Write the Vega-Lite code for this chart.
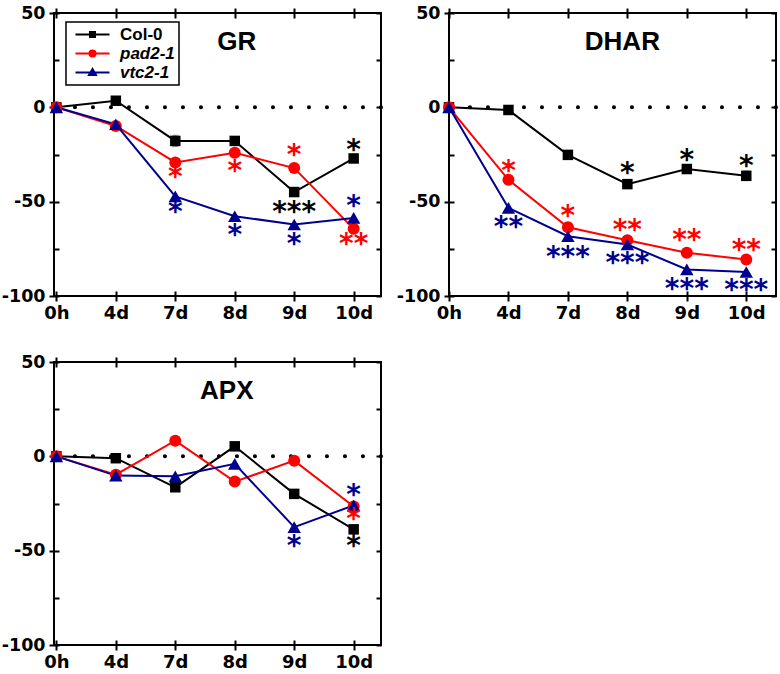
{
  "$schema": "https://vega.github.io/schema/vega-lite/v6.json",
  "background": "white",
  "padding": {"left": 0, "top": 3, "right": 0, "bottom": 0},
  "datasets": {
    "series": [
      {"panel": "GR", "genotype": "Col-0", "day": "0h", "value": 0},
      {"panel": "GR", "genotype": "Col-0", "day": "4d", "value": 3.5},
      {"panel": "GR", "genotype": "Col-0", "day": "7d", "value": -17.8, "err": 3},
      {"panel": "GR", "genotype": "Col-0", "day": "8d", "value": -17.8},
      {"panel": "GR", "genotype": "Col-0", "day": "9d", "value": -44.9},
      {"panel": "GR", "genotype": "Col-0", "day": "10d", "value": -27.1, "err": 1.5},
      {"panel": "GR", "genotype": "pad2-1", "day": "0h", "value": 0},
      {"panel": "GR", "genotype": "pad2-1", "day": "4d", "value": -9.9},
      {"panel": "GR", "genotype": "pad2-1", "day": "7d", "value": -29.2},
      {"panel": "GR", "genotype": "pad2-1", "day": "8d", "value": -24.1},
      {"panel": "GR", "genotype": "pad2-1", "day": "9d", "value": -32.2},
      {"panel": "GR", "genotype": "pad2-1", "day": "10d", "value": -64.4},
      {"panel": "GR", "genotype": "vtc2-1", "day": "0h", "value": 0},
      {"panel": "GR", "genotype": "vtc2-1", "day": "4d", "value": -9.0},
      {"panel": "GR", "genotype": "vtc2-1", "day": "7d", "value": -47.2},
      {"panel": "GR", "genotype": "vtc2-1", "day": "8d", "value": -57.7},
      {"panel": "GR", "genotype": "vtc2-1", "day": "9d", "value": -62.1},
      {"panel": "GR", "genotype": "vtc2-1", "day": "10d", "value": -58.6},
      {"panel": "DHAR", "genotype": "Col-0", "day": "0h", "value": 0},
      {"panel": "DHAR", "genotype": "Col-0", "day": "4d", "value": -1.4},
      {"panel": "DHAR", "genotype": "Col-0", "day": "7d", "value": -25.2, "err": 1.2},
      {"panel": "DHAR", "genotype": "Col-0", "day": "8d", "value": -40.7},
      {"panel": "DHAR", "genotype": "Col-0", "day": "9d", "value": -32.7},
      {"panel": "DHAR", "genotype": "Col-0", "day": "10d", "value": -36.3, "err": 2.5},
      {"panel": "DHAR", "genotype": "pad2-1", "day": "0h", "value": 0},
      {"panel": "DHAR", "genotype": "pad2-1", "day": "4d", "value": -38.4},
      {"panel": "DHAR", "genotype": "pad2-1", "day": "7d", "value": -63.6},
      {"panel": "DHAR", "genotype": "pad2-1", "day": "8d", "value": -70.4},
      {"panel": "DHAR", "genotype": "pad2-1", "day": "9d", "value": -77.1},
      {"panel": "DHAR", "genotype": "pad2-1", "day": "10d", "value": -80.6},
      {"panel": "DHAR", "genotype": "vtc2-1", "day": "0h", "value": 0},
      {"panel": "DHAR", "genotype": "vtc2-1", "day": "4d", "value": -53.3},
      {"panel": "DHAR", "genotype": "vtc2-1", "day": "7d", "value": -68.3},
      {"panel": "DHAR", "genotype": "vtc2-1", "day": "8d", "value": -72.7},
      {"panel": "DHAR", "genotype": "vtc2-1", "day": "9d", "value": -85.9},
      {"panel": "DHAR", "genotype": "vtc2-1", "day": "10d", "value": -87.3},
      {"panel": "APX", "genotype": "Col-0", "day": "0h", "value": 0},
      {"panel": "APX", "genotype": "Col-0", "day": "4d", "value": -1.0},
      {"panel": "APX", "genotype": "Col-0", "day": "7d", "value": -16.4, "err": 1.5},
      {"panel": "APX", "genotype": "Col-0", "day": "8d", "value": 5.3},
      {"panel": "APX", "genotype": "Col-0", "day": "9d", "value": -19.9},
      {"panel": "APX", "genotype": "Col-0", "day": "10d", "value": -38.7},
      {"panel": "APX", "genotype": "pad2-1", "day": "0h", "value": 0},
      {"panel": "APX", "genotype": "pad2-1", "day": "4d", "value": -9.7},
      {"panel": "APX", "genotype": "pad2-1", "day": "7d", "value": 8.3},
      {"panel": "APX", "genotype": "pad2-1", "day": "8d", "value": -13.4},
      {"panel": "APX", "genotype": "pad2-1", "day": "9d", "value": -2.3},
      {"panel": "APX", "genotype": "pad2-1", "day": "10d", "value": -26.6},
      {"panel": "APX", "genotype": "vtc2-1", "day": "0h", "value": 0},
      {"panel": "APX", "genotype": "vtc2-1", "day": "4d", "value": -10.2},
      {"panel": "APX", "genotype": "vtc2-1", "day": "7d", "value": -10.6},
      {"panel": "APX", "genotype": "vtc2-1", "day": "8d", "value": -4.0},
      {"panel": "APX", "genotype": "vtc2-1", "day": "9d", "value": -37.5},
      {"panel": "APX", "genotype": "vtc2-1", "day": "10d", "value": -26.0}
    ],
    "stars": [
      {"panel": "GR", "genotype": "Col-0", "day": "10d", "label": "*", "y": -20.8},
      {"panel": "GR", "genotype": "Col-0", "day": "9d", "label": "***", "y": -53.7},
      {"panel": "GR", "genotype": "pad2-1", "day": "7d", "label": "*", "y": -35.2},
      {"panel": "GR", "genotype": "pad2-1", "day": "8d", "label": "*", "y": -31.7},
      {"panel": "GR", "genotype": "pad2-1", "day": "9d", "label": "*", "y": -23.4},
      {"panel": "GR", "genotype": "pad2-1", "day": "10d", "label": "**", "y": -70.4},
      {"panel": "GR", "genotype": "vtc2-1", "day": "7d", "label": "*", "y": -53.7},
      {"panel": "GR", "genotype": "vtc2-1", "day": "8d", "label": "*", "y": -66.0},
      {"panel": "GR", "genotype": "vtc2-1", "day": "9d", "label": "*", "y": -70.4},
      {"panel": "GR", "genotype": "vtc2-1", "day": "10d", "label": "*", "y": -50.2},
      {"panel": "DHAR", "genotype": "Col-0", "day": "8d", "label": "*", "y": -32.7},
      {"panel": "DHAR", "genotype": "Col-0", "day": "9d", "label": "*", "y": -26.1},
      {"panel": "DHAR", "genotype": "Col-0", "day": "10d", "label": "*", "y": -29.2},
      {"panel": "DHAR", "genotype": "pad2-1", "day": "4d", "label": "*", "y": -31.7},
      {"panel": "DHAR", "genotype": "pad2-1", "day": "7d", "label": "*", "y": -55.5},
      {"panel": "DHAR", "genotype": "pad2-1", "day": "8d", "label": "**", "y": -63.4},
      {"panel": "DHAR", "genotype": "pad2-1", "day": "9d", "label": "**", "y": -68.7},
      {"panel": "DHAR", "genotype": "pad2-1", "day": "10d", "label": "**", "y": -73.9},
      {"panel": "DHAR", "genotype": "vtc2-1", "day": "4d", "label": "**", "y": -61.6},
      {"panel": "DHAR", "genotype": "vtc2-1", "day": "7d", "label": "***", "y": -77.5},
      {"panel": "DHAR", "genotype": "vtc2-1", "day": "8d", "label": "***", "y": -80.6},
      {"panel": "DHAR", "genotype": "vtc2-1", "day": "9d", "label": "***", "y": -94.2},
      {"panel": "DHAR", "genotype": "vtc2-1", "day": "10d", "label": "***", "y": -95.1},
      {"panel": "APX", "genotype": "vtc2-1", "day": "9d", "label": "*", "y": -45.6},
      {"panel": "APX", "genotype": "vtc2-1", "day": "10d", "label": "*", "y": -18.4},
      {"panel": "APX", "genotype": "pad2-1", "day": "10d", "label": "*", "y": -31.6},
      {"panel": "APX", "genotype": "Col-0", "day": "10d", "label": "*", "y": -45.6}
    ],
    "titles": [
      {"panel": "GR", "name": "GR", "day": "8d", "y": 30.4},
      {"panel": "DHAR", "name": "DHAR", "day": "8d", "y": 30.4},
      {"panel": "APX", "name": "APX", "day": "8d", "y": 30.4}
    ]
  },
  "concat": [
    {
      "width": 327, "height": 283,
      "data": {"name": "series"},
      "transform": [{"filter": "datum.panel === 'GR'"}],
      "resolve": {"axis": {"x": "independent", "y": "independent"}},
      "layer": [
        {
          "data": {"values": [{"baseline": 0}]},
          "transform": [],
          "mark": {"type": "rule", "strokeDash": [0.1, 17.9], "strokeWidth": 4, "strokeCap": "round", "color": "black"},
          "encoding": {
            "y": {"field": "baseline", "type": "quantitative", "scale": {"domain": [-100, 50], "nice": false, "zero": false},
              "axis": {"orient": "left", "values": [-100, -75, -50, -25, 0, 25, 50], "offset": -5, "tickSize": {"condition": {"test": "datum.value % 50 === 0", "value": 10}, "value": 5}, "labelExpr": "datum.value % 50 === 0 ? '' + datum.value : ''", "labelPadding": 4, "domain": false, "grid": false, "title": null}}
          }
        },
        {
          "data": {"name": "titles"},
          "transform": [{"filter": "datum.panel === 'GR'"}],
          "mark": {"type": "text", "font": "Liberation Sans", "fontSize": 26, "fontWeight": "bold", "color": "black", "baseline": "alphabetic", "align": "center", "dx": 2},
          "encoding": {
            "x": {"field": "day", "type": "ordinal", "scale": {"type": "point", "domain": ["0h", "4d", "7d", "8d", "9d", "10d"], "padding": 0.25, "align": 0.08}, "axis": null},
            "y": {"field": "y", "type": "quantitative", "scale": {"domain": [-100, 50], "nice": false, "zero": false}, "axis": null},
            "text": {"field": "name"}
          }
        },
        {
          "mark": {"type": "errorbar", "ticks": {"size": 6}, "color": "#7f7f7f", "thickness": 1.2},
          "transform": [{"filter": "datum.err > 0"}],
          "encoding": {
            "x": {"field": "day", "type": "ordinal", "sort": ["0h", "4d", "7d", "8d", "9d", "10d"], "scale": {"type": "point", "domain": ["0h", "4d", "7d", "8d", "9d", "10d"], "padding": 0.25, "align": 0.08}, "axis": null},
            "y": {"field": "value", "type": "quantitative", "scale": {"domain": [-100, 50], "nice": false, "zero": false}, "axis": null},
            "yError": {"field": "err"}
          }
        },
        {
          "mark": {"type": "line", "strokeWidth": 2},
          "encoding": {
            "x": {"field": "day", "type": "ordinal", "sort": ["0h", "4d", "7d", "8d", "9d", "10d"], "scale": {"type": "point", "domain": ["0h", "4d", "7d", "8d", "9d", "10d"], "padding": 0.25, "align": 0.08},
              "axis": {"orient": "bottom", "offset": -5, "tickSize": 10, "labelPadding": 3, "labelAngle": 0, "domain": false, "grid": false, "title": null}},
            "y": {"field": "value", "type": "quantitative", "scale": {"domain": [-100, 50], "nice": false, "zero": false},
              "axis": {"orient": "right", "values": [-100, -75, -50, -25, 0, 25, 50], "tickSize": -5, "labels": false, "domain": false, "grid": false, "title": null}},
            "color": {"field": "genotype", "type": "nominal", "scale": {"domain": ["Col-0", "pad2-1", "vtc2-1"], "range": ["#000000", "#FF0000", "#000090"]},
              "legend": {
                "orient": "none", "legendX": 12, "legendY": 9, "title": null,
                "padding": 4, "strokeColor": "black", "fillColor": "white",
                "symbolSize": 196, "symbolStrokeWidth": 2, "symbolOffset": 14, "labelOffset": 19, "rowPadding": 1,
                "labelFont": "Liberation Sans", "labelFontSize": 17, "labelFontWeight": "bold", "labelColor": "black",
                "encode": {
                  "symbols": {"update": {
                    "shape": {"signal": "datum.value === 'Col-0' ? 'M-2.43,0H2.43M-0.36,-0.36H0.36V0.36H-0.36Z' : datum.value === 'pad2-1' ? 'M-2.43,0H2.43M-0.43,0A0.43 0.43 0 1 0 0.43,0A0.43 0.43 0 1 0 -0.43,0Z' : 'M-2.43,0H2.43M0,-0.5L0.5,0.36L-0.5,0.36Z'"},
                    "fill": {"signal": "datum.value === 'Col-0' ? '#000000' : datum.value === 'pad2-1' ? '#FF0000' : '#000090'"},
                    "stroke": {"signal": "datum.value === 'Col-0' ? '#000000' : datum.value === 'pad2-1' ? '#FF0000' : '#000090'"},
                    "strokeWidth": {"value": 2},
                    "opacity": {"value": 1}
                  }},
                  "labels": {"update": {"fontStyle": {"signal": "datum.label === 'Col-0' ? 'normal' : 'italic'"}}},
                  "legend": {"update": {"strokeWidth": {"value": 1.5}}}
                }
              }}
          }
        },
        {
          "transform": [{"filter": "datum.genotype === 'Col-0'"}],
          "mark": {"type": "point", "shape": "square", "size": 110, "filled": true, "opacity": 1},
          "encoding": {
            "x": {"field": "day", "type": "ordinal", "scale": {"type": "point", "domain": ["0h", "4d", "7d", "8d", "9d", "10d"], "padding": 0.25, "align": 0.08},
              "axis": {"orient": "top", "offset": -5, "tickSize": 10, "labels": false, "domain": false, "grid": false, "title": null}},
            "y": {"field": "value", "type": "quantitative", "scale": {"domain": [-100, 50], "nice": false, "zero": false}, "axis": null},
            "color": {"field": "genotype", "type": "nominal", "scale": {"domain": ["Col-0", "pad2-1", "vtc2-1"], "range": ["#000000", "#FF0000", "#000090"]}, "legend": null}
          }
        },
        {
          "transform": [{"filter": "datum.genotype === 'pad2-1'"}],
          "mark": {"type": "point", "shape": "circle", "size": 144, "filled": true, "opacity": 1},
          "encoding": {
            "x": {"field": "day", "type": "ordinal", "scale": {"type": "point", "domain": ["0h", "4d", "7d", "8d", "9d", "10d"], "padding": 0.25, "align": 0.08}, "axis": null},
            "y": {"field": "value", "type": "quantitative", "scale": {"domain": [-100, 50], "nice": false, "zero": false}, "axis": null},
            "color": {"field": "genotype", "type": "nominal", "scale": {"domain": ["Col-0", "pad2-1", "vtc2-1"], "range": ["#000000", "#FF0000", "#000090"]}, "legend": null}
          }
        },
        {
          "transform": [{"filter": "datum.genotype === 'vtc2-1'"}],
          "mark": {"type": "point", "shape": "triangle-up", "size": 180, "filled": true, "opacity": 1},
          "encoding": {
            "x": {"field": "day", "type": "ordinal", "scale": {"type": "point", "domain": ["0h", "4d", "7d", "8d", "9d", "10d"], "padding": 0.25, "align": 0.08}, "axis": null},
            "y": {"field": "value", "type": "quantitative", "scale": {"domain": [-100, 50], "nice": false, "zero": false}, "axis": null},
            "color": {"field": "genotype", "type": "nominal", "scale": {"domain": ["Col-0", "pad2-1", "vtc2-1"], "range": ["#000000", "#FF0000", "#000090"]}, "legend": null}
          }
        },
        {
          "data": {"name": "stars"},
          "transform": [{"filter": "datum.panel === 'GR'"}],
          "mark": {"type": "text", "font": "DejaVu Sans", "fontSize": 28, "fontWeight": "bold", "baseline": "alphabetic", "align": "center", "dy": 12.5},
          "encoding": {
            "x": {"field": "day", "type": "ordinal", "scale": {"type": "point", "domain": ["0h", "4d", "7d", "8d", "9d", "10d"], "padding": 0.25, "align": 0.08}, "axis": null},
            "y": {"field": "y", "type": "quantitative", "scale": {"domain": [-100, 50], "nice": false, "zero": false}, "axis": null},
            "text": {"field": "label"},
            "color": {"field": "genotype", "type": "nominal", "scale": {"domain": ["Col-0", "pad2-1", "vtc2-1"], "range": ["#000000", "#FF0000", "#000090"]}, "legend": null}
          }
        }
      ]
    },
    {
      "width": 327, "height": 283,
      "data": {"name": "series"},
      "transform": [{"filter": "datum.panel === 'DHAR'"}],
      "resolve": {"axis": {"x": "independent", "y": "independent"}},
      "layer": [
        {
          "data": {"values": [{"baseline": 0}]},
          "transform": [],
          "mark": {"type": "rule", "strokeDash": [0.1, 17.9], "strokeWidth": 4, "strokeCap": "round", "color": "black"},
          "encoding": {
            "y": {"field": "baseline", "type": "quantitative", "scale": {"domain": [-100, 50], "nice": false, "zero": false},
              "axis": {"orient": "left", "values": [-100, -75, -50, -25, 0, 25, 50], "offset": -5, "tickSize": {"condition": {"test": "datum.value % 50 === 0", "value": 10}, "value": 5}, "labelExpr": "datum.value % 50 === 0 ? '' + datum.value : ''", "labelPadding": 4, "domain": false, "grid": false, "title": null}}
          }
        },
        {
          "data": {"name": "titles"},
          "transform": [{"filter": "datum.panel === 'DHAR'"}],
          "mark": {"type": "text", "font": "Liberation Sans", "fontSize": 26, "fontWeight": "bold", "color": "black", "baseline": "alphabetic", "align": "center", "dx": -5},
          "encoding": {
            "x": {"field": "day", "type": "ordinal", "scale": {"type": "point", "domain": ["0h", "4d", "7d", "8d", "9d", "10d"], "padding": 0.25, "align": 0}, "axis": null},
            "y": {"field": "y", "type": "quantitative", "scale": {"domain": [-100, 50], "nice": false, "zero": false}, "axis": null},
            "text": {"field": "name"}
          }
        },
        {
          "mark": {"type": "errorbar", "ticks": {"size": 6}, "color": "#7f7f7f", "thickness": 1.2},
          "transform": [{"filter": "datum.err > 0"}],
          "encoding": {
            "x": {"field": "day", "type": "ordinal", "sort": ["0h", "4d", "7d", "8d", "9d", "10d"], "scale": {"type": "point", "domain": ["0h", "4d", "7d", "8d", "9d", "10d"], "padding": 0.25, "align": 0}, "axis": null},
            "y": {"field": "value", "type": "quantitative", "scale": {"domain": [-100, 50], "nice": false, "zero": false}, "axis": null},
            "yError": {"field": "err"}
          }
        },
        {
          "mark": {"type": "line", "strokeWidth": 2},
          "encoding": {
            "x": {"field": "day", "type": "ordinal", "sort": ["0h", "4d", "7d", "8d", "9d", "10d"], "scale": {"type": "point", "domain": ["0h", "4d", "7d", "8d", "9d", "10d"], "padding": 0.25, "align": 0},
              "axis": {"orient": "bottom", "offset": -5, "tickSize": 10, "labelPadding": 3, "labelAngle": 0, "domain": false, "grid": false, "title": null}},
            "y": {"field": "value", "type": "quantitative", "scale": {"domain": [-100, 50], "nice": false, "zero": false},
              "axis": {"orient": "right", "values": [-100, -75, -50, -25, 0, 25, 50], "tickSize": -5, "labels": false, "domain": false, "grid": false, "title": null}},
            "color": {"field": "genotype", "type": "nominal", "scale": {"domain": ["Col-0", "pad2-1", "vtc2-1"], "range": ["#000000", "#FF0000", "#000090"]}, "legend": null}
          }
        },
        {
          "transform": [{"filter": "datum.genotype === 'Col-0'"}],
          "mark": {"type": "point", "shape": "square", "size": 110, "filled": true, "opacity": 1},
          "encoding": {
            "x": {"field": "day", "type": "ordinal", "scale": {"type": "point", "domain": ["0h", "4d", "7d", "8d", "9d", "10d"], "padding": 0.25, "align": 0},
              "axis": {"orient": "top", "offset": -5, "tickSize": 10, "labels": false, "domain": false, "grid": false, "title": null}},
            "y": {"field": "value", "type": "quantitative", "scale": {"domain": [-100, 50], "nice": false, "zero": false}, "axis": null},
            "color": {"field": "genotype", "type": "nominal", "scale": {"domain": ["Col-0", "pad2-1", "vtc2-1"], "range": ["#000000", "#FF0000", "#000090"]}, "legend": null}
          }
        },
        {
          "transform": [{"filter": "datum.genotype === 'pad2-1'"}],
          "mark": {"type": "point", "shape": "circle", "size": 144, "filled": true, "opacity": 1},
          "encoding": {
            "x": {"field": "day", "type": "ordinal", "scale": {"type": "point", "domain": ["0h", "4d", "7d", "8d", "9d", "10d"], "padding": 0.25, "align": 0}, "axis": null},
            "y": {"field": "value", "type": "quantitative", "scale": {"domain": [-100, 50], "nice": false, "zero": false}, "axis": null},
            "color": {"field": "genotype", "type": "nominal", "scale": {"domain": ["Col-0", "pad2-1", "vtc2-1"], "range": ["#000000", "#FF0000", "#000090"]}, "legend": null}
          }
        },
        {
          "transform": [{"filter": "datum.genotype === 'vtc2-1'"}],
          "mark": {"type": "point", "shape": "triangle-up", "size": 180, "filled": true, "opacity": 1},
          "encoding": {
            "x": {"field": "day", "type": "ordinal", "scale": {"type": "point", "domain": ["0h", "4d", "7d", "8d", "9d", "10d"], "padding": 0.25, "align": 0}, "axis": null},
            "y": {"field": "value", "type": "quantitative", "scale": {"domain": [-100, 50], "nice": false, "zero": false}, "axis": null},
            "color": {"field": "genotype", "type": "nominal", "scale": {"domain": ["Col-0", "pad2-1", "vtc2-1"], "range": ["#000000", "#FF0000", "#000090"]}, "legend": null}
          }
        },
        {
          "data": {"name": "stars"},
          "transform": [{"filter": "datum.panel === 'DHAR'"}],
          "mark": {"type": "text", "font": "DejaVu Sans", "fontSize": 28, "fontWeight": "bold", "baseline": "alphabetic", "align": "center", "dy": 12.5},
          "encoding": {
            "x": {"field": "day", "type": "ordinal", "scale": {"type": "point", "domain": ["0h", "4d", "7d", "8d", "9d", "10d"], "padding": 0.25, "align": 0}, "axis": null},
            "y": {"field": "y", "type": "quantitative", "scale": {"domain": [-100, 50], "nice": false, "zero": false}, "axis": null},
            "text": {"field": "label"},
            "color": {"field": "genotype", "type": "nominal", "scale": {"domain": ["Col-0", "pad2-1", "vtc2-1"], "range": ["#000000", "#FF0000", "#000090"]}, "legend": null}
          }
        }
      ]
    },
    {
      "width": 327, "height": 283,
      "data": {"name": "series"},
      "transform": [{"filter": "datum.panel === 'APX'"}],
      "resolve": {"axis": {"x": "independent", "y": "independent"}},
      "layer": [
        {
          "data": {"values": [{"baseline": 0}]},
          "transform": [],
          "mark": {"type": "rule", "strokeDash": [0.1, 17.9], "strokeWidth": 4, "strokeCap": "round", "color": "black"},
          "encoding": {
            "y": {"field": "baseline", "type": "quantitative", "scale": {"domain": [-100, 50], "nice": false, "zero": false},
              "axis": {"orient": "left", "values": [-100, -75, -50, -25, 0, 25, 50], "offset": -5, "tickSize": {"condition": {"test": "datum.value % 50 === 0", "value": 10}, "value": 5}, "labelExpr": "datum.value % 50 === 0 ? '' + datum.value : ''", "labelPadding": 4, "domain": false, "grid": false, "title": null}}
          }
        },
        {
          "data": {"name": "titles"},
          "transform": [{"filter": "datum.panel === 'APX'"}],
          "mark": {"type": "text", "font": "Liberation Sans", "fontSize": 26, "fontWeight": "bold", "color": "black", "baseline": "alphabetic", "align": "center", "dx": -8},
          "encoding": {
            "x": {"field": "day", "type": "ordinal", "scale": {"type": "point", "domain": ["0h", "4d", "7d", "8d", "9d", "10d"], "padding": 0.25, "align": 0.08}, "axis": null},
            "y": {"field": "y", "type": "quantitative", "scale": {"domain": [-100, 50], "nice": false, "zero": false}, "axis": null},
            "text": {"field": "name"}
          }
        },
        {
          "mark": {"type": "errorbar", "ticks": {"size": 6}, "color": "#7f7f7f", "thickness": 1.2},
          "transform": [{"filter": "datum.err > 0"}],
          "encoding": {
            "x": {"field": "day", "type": "ordinal", "sort": ["0h", "4d", "7d", "8d", "9d", "10d"], "scale": {"type": "point", "domain": ["0h", "4d", "7d", "8d", "9d", "10d"], "padding": 0.25, "align": 0.08}, "axis": null},
            "y": {"field": "value", "type": "quantitative", "scale": {"domain": [-100, 50], "nice": false, "zero": false}, "axis": null},
            "yError": {"field": "err"}
          }
        },
        {
          "mark": {"type": "line", "strokeWidth": 2},
          "encoding": {
            "x": {"field": "day", "type": "ordinal", "sort": ["0h", "4d", "7d", "8d", "9d", "10d"], "scale": {"type": "point", "domain": ["0h", "4d", "7d", "8d", "9d", "10d"], "padding": 0.25, "align": 0.08},
              "axis": {"orient": "bottom", "offset": -5, "tickSize": 10, "labelPadding": 3, "labelAngle": 0, "domain": false, "grid": false, "title": null}},
            "y": {"field": "value", "type": "quantitative", "scale": {"domain": [-100, 50], "nice": false, "zero": false},
              "axis": {"orient": "right", "values": [-100, -75, -50, -25, 0, 25, 50], "tickSize": -5, "labels": false, "domain": false, "grid": false, "title": null}},
            "color": {"field": "genotype", "type": "nominal", "scale": {"domain": ["Col-0", "pad2-1", "vtc2-1"], "range": ["#000000", "#FF0000", "#000090"]}, "legend": null}
          }
        },
        {
          "transform": [{"filter": "datum.genotype === 'Col-0'"}],
          "mark": {"type": "point", "shape": "square", "size": 110, "filled": true, "opacity": 1},
          "encoding": {
            "x": {"field": "day", "type": "ordinal", "scale": {"type": "point", "domain": ["0h", "4d", "7d", "8d", "9d", "10d"], "padding": 0.25, "align": 0.08},
              "axis": {"orient": "top", "offset": -5, "tickSize": 10, "labels": false, "domain": false, "grid": false, "title": null}},
            "y": {"field": "value", "type": "quantitative", "scale": {"domain": [-100, 50], "nice": false, "zero": false}, "axis": null},
            "color": {"field": "genotype", "type": "nominal", "scale": {"domain": ["Col-0", "pad2-1", "vtc2-1"], "range": ["#000000", "#FF0000", "#000090"]}, "legend": null}
          }
        },
        {
          "transform": [{"filter": "datum.genotype === 'pad2-1'"}],
          "mark": {"type": "point", "shape": "circle", "size": 144, "filled": true, "opacity": 1},
          "encoding": {
            "x": {"field": "day", "type": "ordinal", "scale": {"type": "point", "domain": ["0h", "4d", "7d", "8d", "9d", "10d"], "padding": 0.25, "align": 0.08}, "axis": null},
            "y": {"field": "value", "type": "quantitative", "scale": {"domain": [-100, 50], "nice": false, "zero": false}, "axis": null},
            "color": {"field": "genotype", "type": "nominal", "scale": {"domain": ["Col-0", "pad2-1", "vtc2-1"], "range": ["#000000", "#FF0000", "#000090"]}, "legend": null}
          }
        },
        {
          "transform": [{"filter": "datum.genotype === 'vtc2-1'"}],
          "mark": {"type": "point", "shape": "triangle-up", "size": 180, "filled": true, "opacity": 1},
          "encoding": {
            "x": {"field": "day", "type": "ordinal", "scale": {"type": "point", "domain": ["0h", "4d", "7d", "8d", "9d", "10d"], "padding": 0.25, "align": 0.08}, "axis": null},
            "y": {"field": "value", "type": "quantitative", "scale": {"domain": [-100, 50], "nice": false, "zero": false}, "axis": null},
            "color": {"field": "genotype", "type": "nominal", "scale": {"domain": ["Col-0", "pad2-1", "vtc2-1"], "range": ["#000000", "#FF0000", "#000090"]}, "legend": null}
          }
        },
        {
          "data": {"name": "stars"},
          "transform": [{"filter": "datum.panel === 'APX'"}],
          "mark": {"type": "text", "font": "DejaVu Sans", "fontSize": 28, "fontWeight": "bold", "baseline": "alphabetic", "align": "center", "dy": 12.5},
          "encoding": {
            "x": {"field": "day", "type": "ordinal", "scale": {"type": "point", "domain": ["0h", "4d", "7d", "8d", "9d", "10d"], "padding": 0.25, "align": 0.08}, "axis": null},
            "y": {"field": "y", "type": "quantitative", "scale": {"domain": [-100, 50], "nice": false, "zero": false}, "axis": null},
            "text": {"field": "label"},
            "color": {"field": "genotype", "type": "nominal", "scale": {"domain": ["Col-0", "pad2-1", "vtc2-1"], "range": ["#000000", "#FF0000", "#000090"]}, "legend": null}
          }
        }
      ]
    }
  ],
  "columns": 2,
  "spacing": {"row": 66, "column": 68},
  "bounds": "flush",
  "resolve": {"scale": {"x": "independent", "y": "independent", "color": "independent"}},
  "config": {
    "view": {"stroke": "black", "strokeWidth": 2},
    "axis": {"tickColor": "black", "tickWidth": 2, "labelColor": "black", "labelFont": "DejaVu Sans", "labelFontWeight": "bold", "labelFontSize": 17.5},
    "axisX": {"labelFontSize": 18}
  }
}
